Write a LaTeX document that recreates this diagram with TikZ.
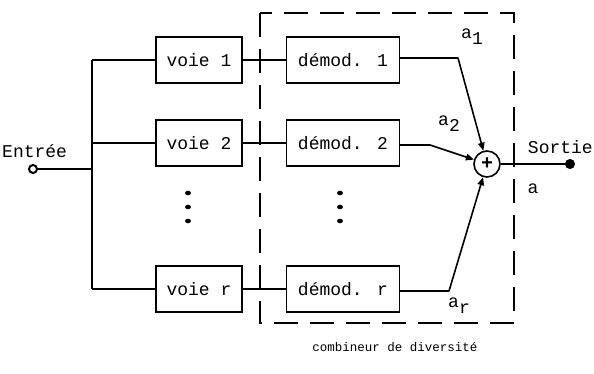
\documentclass[tikz,border=0pt]{standalone}
\usepackage{fontspec}
\setmainfont{Liberation Mono}
\usetikzlibrary{arrows.meta,shapes.geometric}
\newcommand{\lowsub}[1]{\raisebox{-6pt}{#1}}
\tikzset{
  wire/.style={line width=1.6pt},
  blk/.style={draw, line width=1.6pt, minimum height=46pt, inner sep=0pt,
    font=\fontsize{18}{20}\selectfont},
  voiebox/.style={blk, minimum width=86pt},
  demodbox/.style={blk, minimum width=113pt},
  lbl/.style={font=\fontsize{18}{20}\selectfont, inner sep=1pt},
  dotmark/.style={ellipse, fill, inner sep=0pt, minimum width=6pt, minimum height=4.5pt},
  tipline/.style={line width=1.6pt, -{Triangle[length=8pt,width=6.5pt]}}
}
\begin{document}
\begin{tikzpicture}[x=1pt,y=-1pt]
\useasboundingbox (0,0) rectangle (594,374);

% input terminal and distribution bus
\node[draw, circle, line width=2pt, minimum size=8pt, inner sep=0pt] (in) at (33,169) {};
\node[lbl, anchor=south west] (entree) at (1,159) {Entrée};
\coordinate (bj) at (92,169);
\coordinate (b1) at (92,60);
\coordinate (b2) at (92,143);
\coordinate (br) at (92,289);

% channel blocks
\node[voiebox] (v1) at (199,60) {voie 1};
\node[voiebox] (v2) at (199,143) {voie 2};
\node[voiebox] (vr) at (199,289) {voie r};

% demodulators
\node[demodbox] (d1) at (343,60) {démod. 1};
\node[demodbox] (d2) at (343,143) {démod. 2};
\node[demodbox] (dr) at (343,289) {démod. r};

% summing junction
\node[draw, circle, line width=1.6pt, minimum size=26pt, inner sep=0pt,
      font=\bfseries\fontsize{20}{20}\selectfont] (sum) at (487,164) {+};

% output terminal
\node[circle, fill, draw, line width=1pt, minimum size=9pt, inner sep=0pt] (out) at (570,164) {};
\node[lbl, anchor=south east] (sortie) at (594,155) {Sortie};
\node[lbl] (a) at (533,189) {a};

% bends of the branch lines
\coordinate (k1) at (458,58);
\coordinate (k2) at (430,145);
\coordinate (kr) at (449,291);

% wiring
\draw[wire] (in) -- (bj);
\draw[wire] (b1) -- (br);
\draw[wire] (b1) -- (v1.west);
\draw[wire] (b2) -- (v2.west);
\draw[wire] (br) -- (vr.west);
\draw[wire] (v1) -- (d1);
\draw[wire] (v2) -- (d2);
\draw[wire] (vr) -- (dr);
\draw[wire, line join=round] (d1.east |- k1) -- (k1);
\draw[wire, line join=round] (d2.east |- k2) -- (k2);
\draw[wire, line join=round] (dr.east |- kr) -- (kr);
\draw[tipline, line cap=round] (k1) -- (sum);
\draw[tipline, line cap=round] (k2) -- (sum);
\draw[tipline, line cap=round] (kr) -- (sum);
\draw[wire] (sum) -- (out);

% branch labels
\node[lbl, anchor=south west] (a1) at (460,46) {a\lowsub{1}};
\node[lbl, anchor=south west] (a2) at (437,133) {a\lowsub{2}};
\node[lbl, anchor=south west] (ar) at (447,315) {a\lowsub{r}};

% omitted channels
\node[dotmark] (l1) at (188,193) {};
\node[dotmark] (l2) at (188,207) {};
\node[dotmark] (l3) at (188,221) {};
\node[dotmark] (m1) at (340,193) {};
\node[dotmark] (m2) at (340,207) {};
\node[dotmark] (m3) at (340,221) {};

% diversity combiner outline
\draw[line width=1.7pt, dash pattern=on 24pt off 12pt] (260,13) rectangle (514,323);
\node[font=\fontsize{12.5}{14}\selectfont] (comb) at (395,347) {combineur de diversité};
\end{tikzpicture}
\end{document}
